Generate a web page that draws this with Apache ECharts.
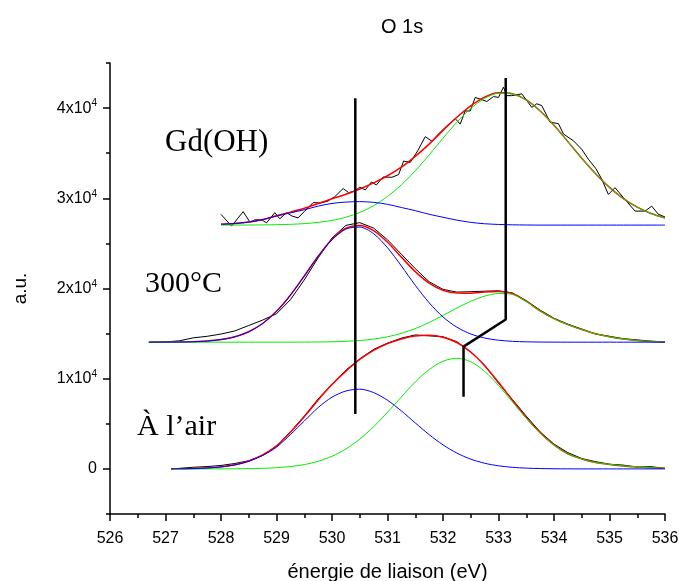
<!DOCTYPE html>
<html>
<head>
<meta charset="utf-8">
<script src="https://cdn.jsdelivr.net/npm/echarts@6/dist/echarts.min.js"></script>
<style>
  html, body { margin: 0; background: #fff; }
  #chart { width: 679px; height: 581px; }
</style>
</head>
<body>
<div id="chart"></div>
<script>
// O 1s spectra, intensities are read above each curve's own baseline
const FONT = '"Liberation Sans", Arial, sans-serif'
const SERIF = '"Liberation Serif", "Times New Roman", serif'

const yTicks = [0, 10000, 20000, 30000, 40000]

// --- à l'air (baseline 0)
const airOffset = 0
const airE = [527.1, 527.25, 527.5, 527.75, 528, 528.25, 528.5, 528.75, 529, 529.25, 529.5, 529.75,
  530, 530.25, 530.5, 530.75, 531, 531.25, 531.5, 531.75, 532, 532.25, 532.5, 532.75,
  533, 533.25, 533.5, 533.75, 534, 534.25, 534.5, 534.75, 535, 535.25, 535.5, 535.75, 536]
const airRaw = [0, 60, 180, 260, 380, 600, 900, 1500, 2500, 4100, 5850, 7750,
  9400, 10950, 12200, 13250, 13950, 14500, 14850, 14750, 14650, 14100, 12950, 11500,
  9500, 7700, 5850, 4100, 2750, 1800, 1150, 800, 520, 420, 200, 250, 50]
const airFit = [9, 20, 41, 100, 224, 458, 876, 1552, 2548, 4059, 5780, 7641,
  9350, 10842, 12139, 13134, 13887, 14409, 14736, 14810, 14604, 14012, 12962, 11447,
  9599, 7615, 5700, 4018, 2665, 1665, 1100, 700, 500, 330, 220, 130, 80]
const airBlue = [9, 20, 41, 98, 219, 446, 846, 1487, 2416, 3800, 5300, 6800,
  7950, 8634, 8839, 8461, 7610, 6427, 5100, 3800, 2664, 1752, 1082, 627,
  343, 175, 85, 38, 15, 5, 0, 0, 0, 0, 0, 0, 0]
const airGreen = [0, 0, 0, 2, 5, 12, 30, 65, 132, 259, 480, 841,
  1400, 2208, 3300, 4673, 6277, 7982, 9636, 11010, 11940, 12260, 11880, 10820,
  9256, 7440, 5615, 3980, 2650, 1660, 1100, 700, 500, 330, 220, 130, 80]

// --- 300°C
const heatOffset = 14050
const heatE = [526.7, 527, 527.25, 527.5, 527.75, 528, 528.25, 528.5, 528.75, 529, 529.25, 529.5, 529.75,
  530, 530.25, 530.5, 530.75, 531, 531.25, 531.5, 531.75, 532, 532.25, 532.5, 532.75,
  533, 533.25, 533.5, 533.75, 534, 534.25, 534.5, 534.75, 535, 535.25, 535.5, 535.75, 536]
const heatRaw = [0, 30, 150, 480, 650, 900, 1250, 1850, 2450, 3150, 4700, 6900, 9350,
  11550, 12950, 13250, 12650, 11350, 9750, 8150, 6700, 5850, 5550, 5600, 5650,
  5700, 5450, 4600, 3550, 2650, 2000, 1450, 900, 650, 380, 250, 110, 30]
const heatFit = [0, 6, 18, 50, 125, 283, 595, 1158, 2070, 3420, 5210, 7333, 9520,
  11405, 12628, 12944, 12362, 11075, 9428, 7817, 6550, 5755, 5440, 5436, 5562,
  5613, 5394, 4538, 3464, 2605, 1950, 1400, 930, 590, 345, 175, 80, 30]
const heatBlue = [0, 6, 18, 50, 125, 283, 595, 1158, 2070, 3420, 5210, 7325, 9500,
  11360, 12535, 12760, 12020, 10475, 8450, 6310, 4370, 2795, 1660, 906, 462,
  218, 94, 38, 14, 5, 0, 0, 0, 0, 0, 0, 0, 0]
const heatGreen = [0, 0, 0, 0, 0, 0, 0, 0, 0, 0, 0, 8, 20,
  45, 93, 184, 342, 600, 978, 1507, 2180, 2960, 3780, 4530, 5100,
  5395, 5300, 4500, 3450, 2600, 1950, 1400, 930, 590, 345, 175, 80, 30]

// --- Gd(OH)
const gdOffset = 27030
const gdE = [528, 528.25, 528.5, 528.75, 529, 529.25, 529.5, 529.75,
  530, 530.25, 530.5, 530.75, 531, 531.25, 531.5, 531.75, 532, 532.25, 532.5, 532.75,
  533, 533.25, 533.5, 533.75, 534, 534.25, 534.5, 534.75, 535, 535.25, 535.5, 535.75, 536]
const gdFit = [92, 184, 339, 620, 1043, 1435, 1863, 2398,
  2920, 3423, 4002, 4674, 5470, 6415, 7623, 8980, 10495, 11950, 13225, 14190,
  14670, 14565, 13870, 12650, 11060, 9255, 7415, 5695, 4184, 2941, 1983, 1279, 790]
const gdBlue = [90, 180, 330, 600, 1000, 1350, 1700, 2100,
  2400, 2550, 2600, 2520, 2300, 1950, 1600, 1200, 870, 550, 300, 150,
  70, 30, 10, 0, 0, 0, 0, 0, 0, 0, 0, 0, 0]
const gdGreen = [2, 4, 9, 20, 43, 85, 163, 298,
  520, 873, 1402, 2154, 3170, 4465, 6023, 7780, 9625, 11400, 12925, 14040,
  14600, 14535, 13860, 12650, 11060, 9255, 7415, 5695, 4184, 2941, 1983, 1279, 790]
// raw Gd(OH) spectrum is noisy, own energy sampling
const gdRawE = [528.0, 528.19, 528.4, 528.52, 528.62, 528.74, 528.82, 528.97, 529.06, 529.18, 529.28, 529.39,
  529.5, 529.66, 529.8, 529.93, 530.05, 530.2, 530.3, 530.4, 530.5, 530.6, 530.71, 530.8, 530.92,
  531.08, 531.2, 531.29, 531.41, 531.55, 531.68, 531.8, 531.95, 532.07, 532.22, 532.31, 532.4, 532.49,
  532.58, 532.7, 532.79, 532.91, 533.0, 533.09, 533.15, 533.24, 533.42, 533.6, 533.69, 533.78, 533.93,
  534.08, 534.17, 534.35, 534.5, 534.62, 534.75, 534.86, 534.98, 535.1, 535.25, 535.46, 535.64, 535.76,
  535.88, 536.0]
const gdRaw = [1190, -110, 1490, 340, 600, 560, 250, 1380, 700, 1380, 1000, 800,
  1500, 2490, 2450, 2670, 3150, 4050, 3600, 3750, 4200, 3900, 4780, 4450, 5330,
  5300, 5600, 7100, 6950, 8300, 9800, 9300, 10300, 11000, 11800, 11200, 12650, 12650,
  14150, 13900, 13700, 14250, 14150, 15300, 14350, 14350, 14550, 13050, 13450, 13250, 11400,
  11250, 10100, 9350, 8400, 7300, 6300, 5100, 3400, 4150, 3050, 1550, 1550, 2100,
  1200, 900]

// peak position guides
const markAE = [530.42, 530.42]
const markAI = [6100, 41100]
const markBE = [532.37, 532.37, 533.13, 533.13]
const markBI = [8000, 13560, 16560, 43330]

const pairs = (E, I, off) => E.map((e, i) => [e, I[i] + off])

const chart = echarts.init(document.getElementById('chart'))

function curve(data, color, width, smooth) {
  return {
    type: 'line', data, showSymbol: false, smooth: smooth ? 0.3 : false,
    lineStyle: { color, width }, silent: true
  }
}

const series = []
const sets = [
  [airE, airRaw, airFit, airBlue, airGreen, airOffset],
  [heatE, heatRaw, heatFit, heatBlue, heatGreen, heatOffset]
]
sets.forEach(([E, raw, fit, blue, green, off]) => {
  series.push(curve(pairs(E, raw, off), '#000', 1, false))
  series.push(curve(pairs(E, fit, off), '#ff0000', 1.5, true))
  series.push(curve(pairs(E, green, off), '#00ee00', 1, true))
  series.push(curve(pairs(E, blue, off), '#0000ff', 1, true))
})
series.push(curve(pairs(gdRawE, gdRaw, gdOffset), '#000', 1, false))
series.push(curve(pairs(gdE, gdFit, gdOffset), '#ff0000', 1.5, true))
series.push(curve(pairs(gdE, gdGreen, gdOffset), '#00ee00', 1, true))
series.push(curve(pairs(gdE, gdBlue, gdOffset), '#0000ff', 1, true))
series.push(curve(pairs(markAE, markAI, 0), '#000', 2.5, false))
series.push(curve(pairs(markBE, markBI, 0), '#000', 2.5, false))

const option = {
  backgroundColor: '#fff',
  animation: false,
  title: {
    text: 'O 1s', left: 376, top: 12,
    textStyle: { fontSize: 20, fontWeight: 'normal', color: '#000', fontFamily: FONT }
  },
  grid: [
    { left: 110, right: 14, top: 63, bottom: 67, containLabel: false, outerBoundsMode: 'none' },
    // second grid only carries the labelled major ticks (0 .. 4x10^4)
    { left: 110, right: 14, top: 108.1, bottom: 112.1, containLabel: false, outerBoundsMode: 'none' }
  ],
  xAxis: [{
    type: 'value', min: 526, max: 536, interval: 1,
    name: 'énergie de liaison (eV)', nameLocation: 'middle', nameGap: 48,
    nameTextStyle: { fontSize: 20, color: '#000', fontFamily: FONT },
    axisLine: { onZero: false, lineStyle: { color: '#000', width: 1.5 } },
    axisTick: { length: 7, lineStyle: { color: '#000', width: 1.5 } },
    minorTick: { show: true, splitNumber: 2, length: 4, lineStyle: { color: '#000', width: 1.5 } },
    axisLabel: { fontSize: 16, color: '#000', margin: 17, fontFamily: FONT },
    splitLine: { show: false }
  }, {
    gridIndex: 1, type: 'value', min: 526, max: 536, show: false
  }],
  yAxis: [{
    type: 'value', min: -5000, max: 45000, interval: 5000,
    name: 'a.u.', nameLocation: 'middle', nameGap: 80, nameRotate: 90,
    nameTextStyle: { fontSize: 19, color: '#000', fontFamily: FONT },
    axisLine: { show: true, onZero: false, lineStyle: { color: '#000', width: 1.5 } },
    axisTick: { show: true, length: 4, lineStyle: { color: '#000', width: 1.5 } },
    axisLabel: { show: false },
    splitLine: { show: false }
  }, {
    gridIndex: 1, type: 'value', min: 0, max: 40000, interval: 10000,
    axisLine: { show: false },
    axisTick: { show: true, length: 7, lineStyle: { color: '#000', width: 1.5 } },
    axisLabel: {
      fontSize: 16, color: '#000', margin: 13, fontFamily: FONT,
      formatter: v => yTicks.indexOf(v) <= 0 ? String(v) : `{b|${v / 10000}x10}{sup|4}`,
      rich: {
        b: { fontSize: 16, color: '#000', fontFamily: FONT },
        sup: { fontSize: 10, color: '#000', fontFamily: FONT, verticalAlign: 'bottom', padding: [0, 0, 9, 0] }
      }
    },
    splitLine: { show: false }
  }],
  graphic: [
    { type: 'text', left: 165, top: 127, style: { text: 'Gd(OH)', font: `31px ${SERIF}`, fill: '#000' } },
    { type: 'text', left: 145, top: 269, style: { text: '300°C', font: `30px ${SERIF}`, fill: '#000' } },
    { type: 'text', left: 137, top: 412, style: { text: 'À l’air', font: `30px ${SERIF}`, fill: '#000' } }
  ],
  series
}

chart.setOption(option)
</script>
</body>
</html>
